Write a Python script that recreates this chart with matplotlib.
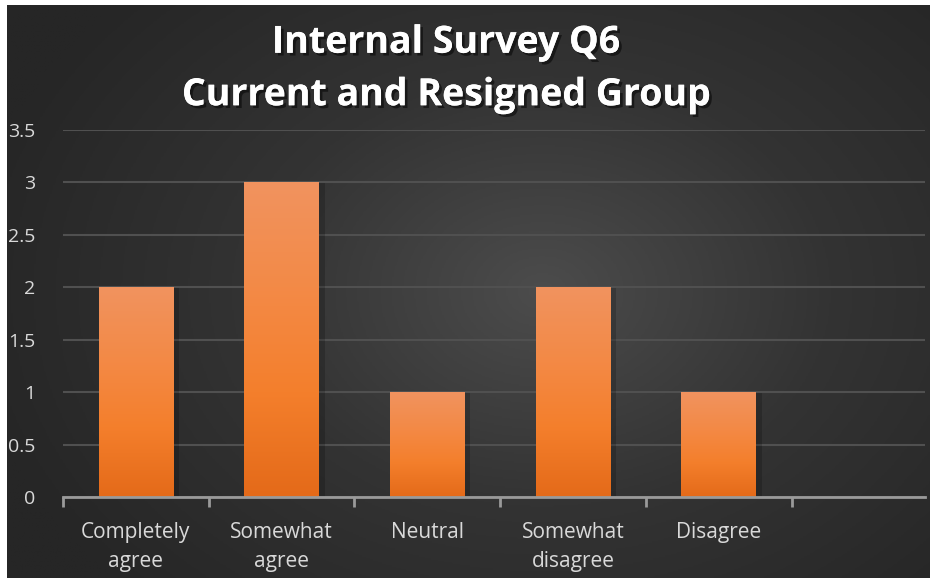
import numpy as np
import matplotlib
matplotlib.use("Agg")
import matplotlib.pyplot as plt
import matplotlib.patheffects as pe
from matplotlib.colors import LinearSegmentedColormap

categories = ["Completely\nagree", "Somewhat\nagree", "Neutral", "Somewhat\ndisagree", "Disagree", ""]
values = [2, 3, 1, 2, 1, 0]
yticks = [0, 0.5, 1, 1.5, 2, 2.5, 3, 3.5]
ytick_labels = ["0", "0.5", "1", "1.5", "2", "2.5", "3", "3.5"]
title = "Internal Survey Q6\nCurrent and Resigned Group"

W, H = 930, 581
fig = plt.figure(figsize=(W / 100, H / 100), dpi=100)
fig.patch.set_facecolor("white")

# background panel with radial gradient
bg = fig.add_axes([7 / W, 3 / H, (929 - 7) / W, (576 - 3) / H])
bg.set_axis_off()
yy, xx = np.mgrid[0:1:400j, 0:1:640j]
cx, cy = 0.58, 0.50
r = np.sqrt(((xx - cx) * 1.2) ** 2 + ((yy - cy) * 1.0) ** 2)
v = np.clip(1 - r / 0.75, 0, 1)
cmap_bg = LinearSegmentedColormap.from_list("bg", ["#262626", "#333333", "#4c4c4c"])
bg.imshow(v, cmap=cmap_bg, aspect="auto", extent=[0, 1, 0, 1], origin="lower", vmin=0, vmax=1)
bg.set_xlim(0, 1)
bg.set_ylim(0, 1)

# plot axes
x0, x1 = 63, 925
y0, y1 = 497, 130
ax = fig.add_axes([x0 / W, (H - y0) / H, (x1 - x0) / W, (y0 - y1) / H])
ax.set_facecolor("none")
ax.patch.set_alpha(0)
xs = np.arange(len(categories))
xlim = (-0.5, -0.5 + (x1 - x0) / 145.7)

bars = ax.bar(xs, values, width=0.51, color="none", zorder=3)
cmap_bar = LinearSegmentedColormap.from_list("bar", ["#e46a19", "#f47f2c", "#f38a47", "#f1935f"])
grad = np.linspace(0, 1, 256).reshape(-1, 1)
for b in bars:
    h = b.get_height()
    if h <= 0:
        continue
    bx, bw = b.get_x(), b.get_width()
    ax.add_patch(plt.Rectangle((bx + 0.02, 0), bw + 0.02, h - 0.01, color="black", alpha=0.18, zorder=2, lw=0))
    ax.imshow(grad, cmap=cmap_bar, aspect="auto", extent=[bx, bx + bw, 0, h],
              origin="lower", zorder=3, vmin=0, vmax=1)
ax.set_xlim(*xlim)
ax.set_ylim(0, 3.5)
ax.set_aspect("auto")

ax.set_yticks(yticks)
ax.set_yticklabels(ytick_labels)
ax.yaxis.grid(True, color="#505050", lw=1.5, zorder=1)
ax.set_axisbelow(True)
ax.tick_params(axis="y", length=0, pad=20, labelsize=14, labelcolor="#d9d9d9")
ax.set_xticks(xs)
ax.set_xticklabels(categories)
ax.tick_params(axis="x", length=0, pad=18, labelsize=15, labelcolor="#d9d9d9")
ax.set_xticks(np.arange(len(categories)) - 0.5, minor=True)
ax.tick_params(axis="x", which="minor", length=7, width=2, color="#9a9a9a", direction="out")
for lab in ax.get_xticklabels() + ax.get_yticklabels():
    lab.set_family(["Open Sans", "DejaVu Sans"])
    lab.set_linespacing(1.5)
for s in ["top", "right", "left"]:
    ax.spines[s].set_visible(False)
ax.spines["bottom"].set_color("#9a9a9a")
ax.spines["bottom"].set_linewidth(2)
ax.spines["bottom"].set_zorder(4)

t = fig.text(446 / W, 1 - 69 / H, title, ha="center", va="center", color="white",
             fontsize=27, fontweight="bold", family=["Open Sans", "DejaVu Sans"],
             linespacing=1.5)
t.set_path_effects([pe.withSimplePatchShadow(offset=(2, -2), shadow_rgbFace="black", alpha=0.5), pe.Normal()])

fig.savefig("out.png", dpi=100, facecolor="white")
